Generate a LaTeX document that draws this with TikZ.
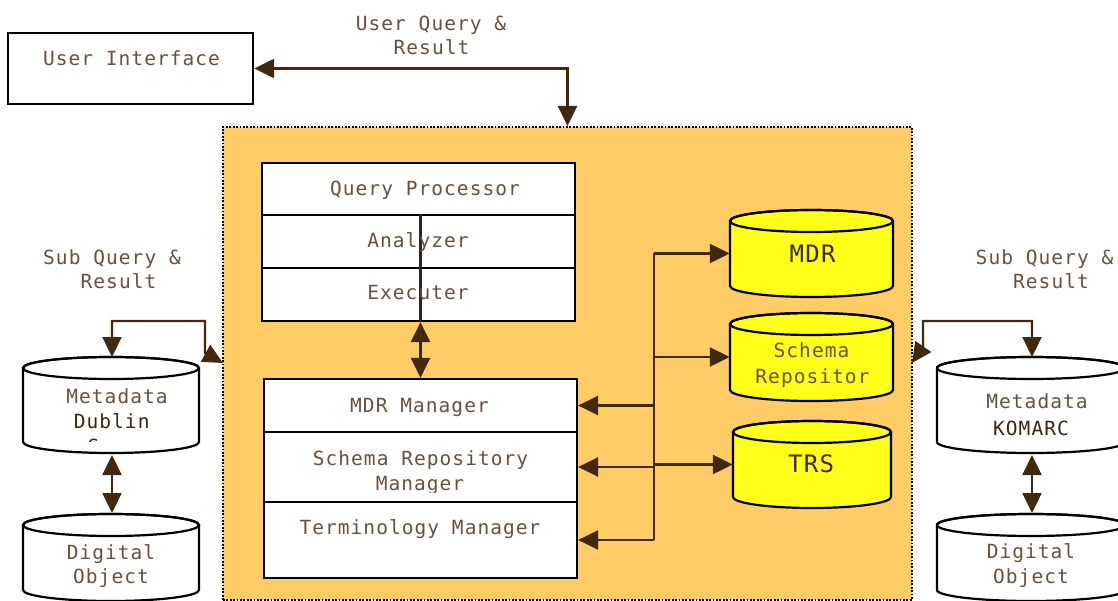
\documentclass[tikz,border=0pt]{standalone}
\usepackage{fontspec}
\usetikzlibrary{arrows.meta}
\newfontfamily\dmono[LetterSpace=5.4]{DejaVu Sans Mono}
\definecolor{orangebg}{HTML}{FFCC66}
\definecolor{dbyellow}{HTML}{FFFF1A}
\definecolor{arrowc}{HTML}{40290F}
\definecolor{txtc}{HTML}{65523F}
\definecolor{txtdark}{HTML}{3A2810}
\tikzset{
 txt/.style={font=\dmono\fontsize{19.5}{26}\selectfont, text=txtc, inner sep=0pt, anchor=base},
 txtb/.style={font=\dmono\fontsize{19.5}{26}\selectfont, text=txtdark, inner sep=0pt, anchor=base},
 bigtxt/.style={font=\dmono\fontsize{24}{28}\selectfont, text=txtdark, inner sep=0pt, anchor=base},
 wbox/.style={draw=black, fill=white, line width=2.3pt, inner sep=0pt},
 rowbox/.style={draw=black, fill=white, line width=2.2pt, inner sep=0pt, minimum width=313},
 conn/.style={draw=arrowc, line width=2.3pt},
 arr/.style={conn, -{Triangle[length=20pt,width=19pt]}},
 darr/.style={conn, {Triangle[length=20pt,width=19pt]}-{Triangle[length=20pt,width=19pt]}},
}
\newcommand{\dbcyl}[6]{%
  \path[draw=black, line width=2.2pt, fill=#6] (#2,#4) -- (#2,#5)
    arc[start angle=180, end angle=0, x radius={(#3-#2)/2}, y radius=11] -- (#3,#4)
    arc[start angle=0, end angle=-180, x radius={(#3-#2)/2}, y radius=11] -- cycle;
  \draw[line width=2.2pt] ({(#2+#3)/2},#4) ellipse[x radius={(#3-#2)/2}, y radius=11];
  \node[inner sep=0pt, minimum width={#3-#2}, minimum height={#5-#4}] (#1) at ({(#2+#3)/2},{(#4+#5)/2}) {};
}
\begin{document}
\begin{tikzpicture}[x=1pt,y=-1pt]
\useasboundingbox (0,0) rectangle (1118,601);
\fill[white] (0,0) rectangle (1118,601);

% main orange area
\node[draw=black, dash pattern=on 1.8pt off 1.6pt, line width=2pt, fill=orangebg,
      minimum width=689, minimum height=473, inner sep=0pt] (core) at (567.5,363.5) {};

% user interface
\node[wbox, minimum width=245, minimum height=71] (ui) at (130.5,68.5) {};

% query processor stack
\node[rowbox, minimum height=52] (qp1) at (418.5,189) {};
\node[rowbox, minimum height=53] (qp2) at (418.5,241.5) {};
\node[rowbox, minimum height=53] (qp3) at (418.5,294.5) {};

% manager stack
\node[rowbox, minimum height=53] (mm1) at (420.5,405.5) {};
\node[rowbox, minimum height=70] (mm2) at (420.5,467) {};
\node[rowbox, minimum height=76] (mm3) at (420.5,540) {};

% repositories
\dbcyl{mdr}{730}{893}{221}{286}{dbyellow}
\dbcyl{sch}{730}{893}{324}{390}{dbyellow}
\dbcyl{trs}{733}{891}{432}{497}{dbyellow}
\dbcyl{mdL}{23}{199}{368}{442}{white}
\dbcyl{doL}{23}{199}{525}{590}{white}
\dbcyl{mdR}{937}{1125}{368}{442}{white}
\dbcyl{doR}{937}{1125}{525}{590}{white}

% connectors
\draw[darr] (ui.east) -| (core.north);
\draw[line width=2.2pt, draw=black!85] (qp2.north -| mm1.north) -- (qp3.south -| mm1.north);
\draw[darr] (qp3.south -| mm1.north) -- (mm1.north);

\coordinate (trunk) at (654,0);
\draw[conn] (trunk |- mdr.west) -- (trunk |- mm3.east);
\draw[arr] (trunk |- mdr.west) -- (mdr.west);
\draw[arr] (trunk |- sch.west) -- (sch.west);
\draw[arr] (trunk |- trs.west) -- (trs.west);
\draw[arr] (trunk |- mm1.east) -- (mm1.east);
\draw[arr] (trunk |- mm2.east) -- (mm2.east);
\draw[arr] (trunk |- mm3.east) -- (mm3.east);

\coordinate (mdLtop) at (112,357);
\coordinate (lcorner) at (205,321);
\coordinate (lknee) at (205,353);
\coordinate (lend) at (223,363);
\draw[darr] (mdLtop) |- (lcorner) -- (lknee) -- (lend);

\coordinate (mdRtop) at (1032,357);
\coordinate (rcorner) at (923,321);
\coordinate (rknee) at (923,347);
\coordinate (rend) at (912,363);
\draw[darr] (mdRtop) |- (rcorner) -- (rknee) -- (rend);

\coordinate (mdLbot) at (112,455);
\coordinate (doLtop) at (112,513);
\draw[darr] (mdLbot) -- (doLtop);
\coordinate (mdRbot) at (1032,455);
\coordinate (doRtop) at (1032,513);
\draw[darr] (mdRbot) -- (doRtop);

% texts
\node[txt] (tui) at (131.5,66) {User Interface};
\node[txt] (tuq1) at (431,31) {User Query \&};
\node[txt] (tuq2) at (431.5,55) {Result};
\node[txt] (tqp1) at (425,196) {Query Processor};
\node[txt] (tqp2) at (418,248) {Analyzer};
\node[txt] (tqp3) at (418,300) {Executer};
\node[txt] (tmm1) at (419.5,412) {MDR Manager};
\begin{scope}
\clip (264,432) rectangle (577,492);
\node[txt] (tmm2a) at (420.5,465) {Schema Repository};
\node[txt] (tmm2b) at (420,490) {Manager};
\end{scope}
\node[txt] (tmm3) at (420,534) {Terminology Manager};

\node[bigtxt] (tmdr) at (812.5,263) {MDR};
\node[txt] (tsch1) at (811.5,357) {Schema};
\node[txt] (tsch2) at (812.5,383) {Repositor};
\node[bigtxt] (ttrs) at (811,472) {TRS};

\node[txt] (tsqL1) at (112,265) {Sub Query \&};
\node[txt] (tsqL2) at (118.5,289) {Result};
\node[txt] (tsqR1) at (1044.5,265) {Sub Query \&};
\node[txt] (tsqR2) at (1051,289) {Result};

\node[txt] (tmdL1) at (117,403) {Metadata};
\begin{scope}
\clip (23,380) rectangle (199,441);
\node[txtb] (tmdL2) at (111.7,428) {Dublin};
\node[txtb] (tmdL3) at (112,453) {Core};
\end{scope}
\node[txt] (tdoL1) at (111,559) {Digital};
\node[txt] (tdoL2) at (111,583) {Object};

\node[txt] (tmdR1) at (1037,408) {Metadata};
\node[txtb] (tmdR2) at (1031,435) {KOMARC};
\node[txt] (tdoR1) at (1031,558) {Digital};
\node[txt] (tdoR2) at (1031,583) {Object};
\end{tikzpicture}
\end{document}
